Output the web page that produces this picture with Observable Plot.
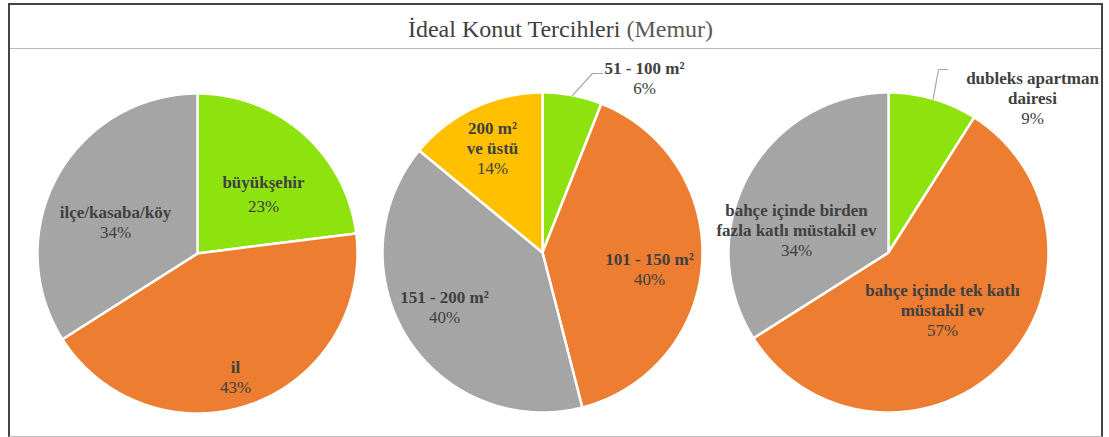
<!DOCTYPE html>
<html>
<head>
<meta charset="utf-8">
<script src="https://cdn.jsdelivr.net/npm/d3@7"></script>
<script src="https://cdn.jsdelivr.net/npm/@observablehq/plot@0.6"></script>
<style>
  html, body { margin: 0; padding: 0; background: #fff; }
  #wrap { position: relative; width: 1109px; height: 437px; overflow: hidden; background: #fff; }
  #frame { position: absolute; left: 8px; top: 3px; width: 1095px; height: 434px; box-sizing: border-box;
           border-left: 2px solid #454545; border-right: 2px solid #454545; border-top: 2px solid #454545;
           border-bottom: 1px solid #bdbdbd; z-index: 3; pointer-events: none; }
  #sep { position: absolute; left: 10px; top: 48px; width: 1091px; height: 1px; background: #b8b8b8; z-index: 3; }
  #title { position: absolute; left: 0; top: 17px; width: 1109px; padding-left: 12px; box-sizing: border-box;
           text-align: center; font-family: 'Liberation Serif'; font-size: 24px;
           line-height: 24px; color: #404040; z-index: 4; }
  #title .sub { color: #595959; }
  #chart { position: absolute; left: 0; top: 49px; z-index: 1; }
  #chart svg text { font-family: 'Liberation Serif' !important; }
</style>
</head>
<body>
<div id="wrap">
  <div id="frame"></div>
  <div id="sep"></div>
  <div id="title">İdeal Konut Tercihleri <span class="sub">(Memur)</span></div>
  <div id="chart"></div>
</div>
<script>
// ---- data ----
const pie1Categories = ["büyükşehir", "il", "ilçe/kasaba/köy"];
const pie1Values = [23, 43, 34];
const pie2Categories = ["51 - 100 m²", "101 - 150 m²", "151 - 200 m²", "200 m²\nve üstü"];
const pie2Values = [6, 40, 40, 14];
const pie3Categories = ["dubleks apartman\ndairesi", "bahçe içinde tek katlı\nmüstakil ev", "bahçe içinde birden\nfazla katlı müstakil ev"];
const pie3Values = [9, 57, 34];
const sliceColors = ["#8ee30f", "#ed7d31", "#a5a5a5", "#ffc000"];

// ---- layout (page pixels) ----
const TOP = 49, W = 1109, H = 386, LH = 20;
const pies = [
  { cats: pie1Categories, vals: pie1Values, cx: 197, cy: 253, r: 160,
    labels: [[263, 182, 24], [235, 367, 20], [115, 212, 20]], leaders: {} },
  { cats: pie2Categories, vals: pie2Values, cx: 542, cy: 252, r: 160,
    labels: [[644, 68, 20], [649, 259, 20], [444, 297, 20], [492, 128, 20]],
    leaders: { 0: [[-52, 5], [-42, 5]] } },
  { cats: pie3Categories, vals: pie3Values, cx: 888, cy: 252, r: 160,
    labels: [[1032, 78, 20], [942, 290, 20], [796, 210, 20]],
    leaders: { 0: [[-94, -9], [-85, -9]] } }
];

const slicePts = [], nameLines = [], pctLines = [], leaderPts = [];
pies.forEach((p, pi) => {
  const arcs = d3.pie().sort(null).value(d => d)(p.vals);
  const cy = p.cy - TOP;
  arcs.forEach((a, i) => {
    const key = pi + "-" + i;
    slicePts.push({ key, ci: i, x: p.cx, y: cy });
    const steps = Math.max(2, Math.ceil((a.endAngle - a.startAngle) / (Math.PI / 360)));
    for (let s = 0; s <= steps; s++) {
      const ang = a.startAngle + (a.endAngle - a.startAngle) * s / steps;
      slicePts.push({ key, ci: i, x: p.cx + p.r * Math.sin(ang), y: cy - p.r * Math.cos(ang) });
    }
    slicePts.push({ key, ci: i, x: p.cx, y: cy });

    const [lx, ly, gap] = p.labels[i];
    const lines = p.cats[i].split("\n");
    lines.forEach((t, k) => nameLines.push({ text: t, x: lx, y: ly - TOP + k * LH }));
    pctLines.push({ text: p.vals[i] + "%", x: lx, y: ly - TOP + (lines.length - 1) * LH + gap });

    const ld = p.leaders[i];
    if (ld) {
      const mid = (a.startAngle + a.endAngle) / 2;
      leaderPts.push({ key, x: p.cx + p.r * Math.sin(mid), y: cy - p.r * Math.cos(mid) });
      ld.forEach(([dx, dy]) => leaderPts.push({ key, x: lx + dx, y: ly - TOP + dy }));
    }
  });
});

const font = "Liberation Serif";
const chart = Plot.plot({
  width: W, height: H,
  marginTop: 0, marginBottom: 0, marginLeft: 0, marginRight: 0,
  x: { domain: [0, W], range: [0, W], axis: null },
  y: { domain: [0, H], range: [0, H], axis: null },
  color: { type: "ordinal", domain: [0, 1, 2, 3], range: sliceColors },
  style: { background: "transparent", overflow: "visible", fontFamily: font },
  marks: [
    Plot.line(slicePts, { x: "x", y: "y", z: "key", fill: "ci", stroke: "white", strokeWidth: 2.5, strokeLinejoin: "round", curve: "linear" }),
    Plot.line(leaderPts, { x: "x", y: "y", z: "key", stroke: "#a6a6a6", strokeWidth: 1.2 }),
    Plot.text(nameLines, { x: "x", y: "y", text: "text", fontSize: 17, fontWeight: "bold", fontFamily: font, fill: "#404040" }),
    Plot.text(pctLines, { x: "x", y: "y", text: "text", fontSize: 17, fontFamily: font, fill: "#404040" })
  ]
});
document.getElementById("chart").appendChild(chart);
</script>
</body>
</html>
